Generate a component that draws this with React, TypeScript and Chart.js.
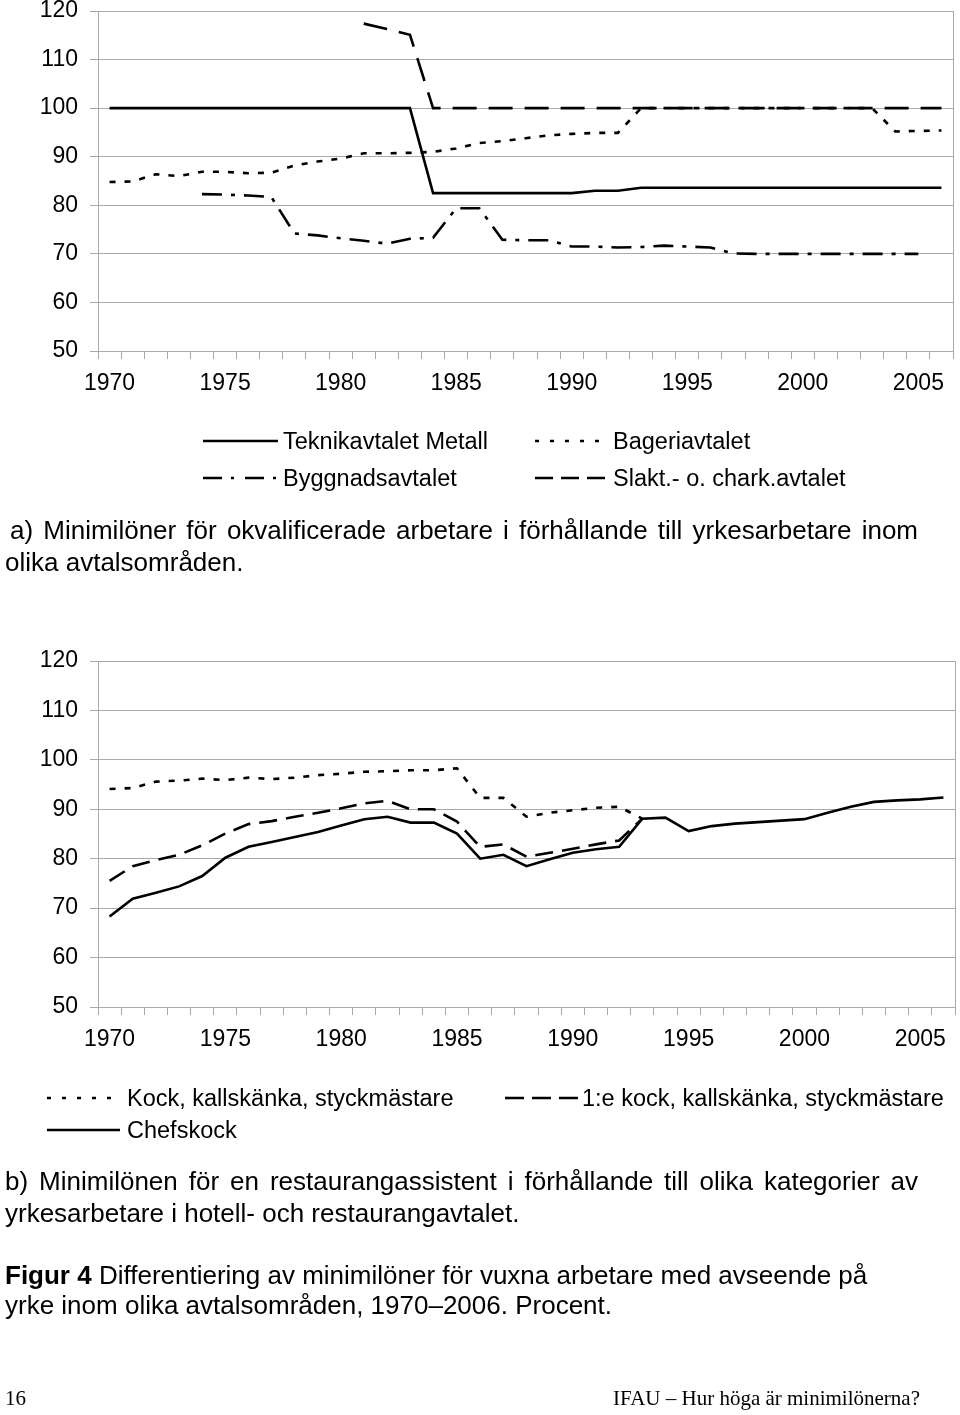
import React, { useEffect, useRef } from "react";
import { Chart, registerables } from "chart.js";

Chart.register(...registerables);

// ---------- data ----------
const years = [
  "1970", "1971", "1972", "1973", "1974", "1975", "1976", "1977", "1978", "1979",
  "1980", "1981", "1982", "1983", "1984", "1985", "1986", "1987", "1988", "1989",
  "1990", "1991", "1992", "1993", "1994", "1995", "1996", "1997", "1998", "1999",
  "2000", "2001", "2002", "2003", "2004", "2005", "2006",
];

const yMin = 50;
const yMax = 120;
const yStep = 10;

// Chart a
const teknikMetall = [
  100, 100, 100, 100, 100, 100, 100, 100, 100, 100,
  100, 100, 100, 100, 82.5, 82.5, 82.5, 82.5, 82.5, 82.5,
  82.5, 83, 83, 83.6, 83.6, 83.6, 83.6, 83.6, 83.6, 83.6,
  83.6, 83.6, 83.6, 83.6, 83.6, 83.6, 83.6,
];
const bageri = [
  84.8, 84.9, 86.4, 86.0, 86.9, 86.9, 86.6, 86.7, 88.2, 89.0,
  89.6, 90.7, 90.7, 90.8, 91.0, 91.7, 92.8, 93.2, 93.8, 94.4,
  94.7, 94.9, 94.9, 100, 100, 100, 100, 100, 100, 100,
  100, 100, 100, 100, 95.2, 95.3, 95.4,
];
const byggnad = [
  null, null, null, null, 82.3, 82.2, 82.0, 81.7, 74.2, 73.8,
  73.2, 72.7, 72.1, 73.1, 73.3, 79.4, 79.4, 72.9, 72.8, 72.8,
  71.5, 71.5, 71.3, 71.4, 71.7, 71.5, 71.3, 70.1, 70, 70,
  70, 70, 70, 70, 70, 70, null,
];
const slaktChark = [
  null, null, null, null, null, null, null, null, null, null,
  null, 117.4, 116.3, 115.1, 100, 100, 100, 100, 100, 100,
  100, 100, 100, 100, 100, 100, 100, 100, 100, 100,
  100, 100, 100, 100, 100, 100, 100,
];

// Chart b
const kock = [
  94.1, 94.3, 95.6, 95.8, 96.2, 95.9, 96.4, 96.1, 96.4, 96.9,
  97.2, 97.6, 97.7, 97.9, 97.9, 98.3, 92.3, 92.3, 88.5, 89.3,
  89.8, 90.3, 90.5, 88.1, null, null, null, null, null, null,
  null, null, null, null, null, null, null,
];
const forsteKock = [
  75.5, 78.5, 79.7, 80.8, 82.7, 85.1, 87.0, 87.6, 88.5, 89.3,
  90.2, 91.2, 91.7, 90.0, 90.0, 87.5, 82.4, 82.9, 80.4, 81.2,
  82.0, 82.9, 83.7, 88.1, null, null, null, null, null, null,
  null, null, null, null, null, null, null,
];
const chefskock = [
  68.3, 71.9, 73.1, 74.4, 76.5, 80.2, 82.4, 83.4, 84.4, 85.4,
  86.7, 88.0, 88.5, 87.3, 87.3, 85.1, 80.0, 80.8, 78.5, 79.9,
  81.2, 81.9, 82.4, 88.1, 88.3, 85.6, 86.6, 87.1, 87.4, 87.7,
  88.0, 89.3, 90.5, 91.5, 91.8, 92.0, 92.4,
];

// ---------- styles ----------
const GRID = "#a9a9a9";
const FONT = "'Liberation Sans', Arial, Helvetica, sans-serif";
const SERIF = "'Liberation Serif', 'Times New Roman', serif";
const LW = 2.6;
const TICK_SIZE = 23;

const DASH_DOT_SHORT = [6, 9];
const DASH_LONG = [24, 12];
const DASH_DASHDOT = [20, 9, 4, 9];
const DASH_MED = [18, 9];

const rightBorder = {
  id: "rightBorder",
  afterDraw(chart: any) {
    const { ctx, chartArea } = chart;
    ctx.save();
    ctx.strokeStyle = GRID;
    ctx.lineWidth = 1;
    const x = Math.round(chartArea.right) + 0.5;
    ctx.beginPath();
    ctx.moveTo(x, chartArea.top);
    ctx.lineTo(x, chartArea.bottom);
    ctx.stroke();
    ctx.restore();
  },
};

function ds(label: string, data: (number | null)[], dash: number[]) {
  return {
    label,
    data,
    borderColor: "#000",
    backgroundColor: "#000",
    borderWidth: LW,
    borderDash: dash,
    borderCapStyle: "butt",
    pointRadius: 0,
    fill: false,
    spanGaps: false,
    tension: 0,
  };
}

function LineChart(props: {
  top: number;
  height: number;
  padTop: number;
  padRight: number;
  datasets: any[];
}) {
  const ref = useRef<HTMLCanvasElement | null>(null);
  useEffect(() => {
    if (!ref.current) return;
    const chart = new Chart(ref.current, {
      type: "line",
      data: { labels: years, datasets: props.datasets },
      options: {
        animation: false,
        responsive: false,
        maintainAspectRatio: false,
        devicePixelRatio: 1,
        layout: { padding: { top: props.padTop, right: props.padRight, left: 0, bottom: 0 } },
        plugins: { legend: { display: false }, tooltip: { enabled: false } },
        scales: {
          x: {
            type: "category",
            offset: true,
            grid: {
              offset: true,
              drawOnChartArea: false,
              drawTicks: true,
              tickLength: 8,
              color: GRID,
            },
            border: { display: true, color: GRID },
            ticks: {
              autoSkip: false,
              maxRotation: 0,
              minRotation: 0,
              padding: 13,
              color: "#000",
              font: { family: FONT, size: TICK_SIZE, lineHeight: 1 },
              callback: (_v: any, i: number) => {
                const l = years[i];
                return Number(l) % 5 === 0 ? l : "";
              },
            },
            afterFit(s: any) {
              s.height = 49;
              s.paddingLeft = 0;
              s.paddingRight = 0;
            },
          },
          y: {
            min: yMin,
            max: yMax,
            ticks: {
              stepSize: yStep,
              padding: 12,
              color: "#000",
              font: { family: FONT, size: TICK_SIZE, lineHeight: 1 },
            },
            grid: { color: GRID, tickLength: 8, drawTicks: true },
            border: { display: true, color: GRID },
            afterFit(s: any) {
              s.width = 98;
              s.paddingTop = 0;
              s.paddingBottom = 0;
            },
          },
        },
      } as any,
      plugins: [rightBorder],
    });
    return () => chart.destroy();
  }, []);
  return (
    <canvas
      ref={ref}
      width={960}
      height={props.height}
      style={{ position: "absolute", left: 0, top: props.top, width: 960, height: props.height }}
    />
  );
}

function T(props: {
  x: number;
  y: number;
  size: number;
  children: any;
  family?: string;
  width?: number;
  justify?: boolean;
  right?: number;
}) {
  const style: any = {
    position: "absolute",
    top: props.y - props.size * 0.59,
    fontSize: props.size,
    lineHeight: `${props.size * 1.2}px`,
    fontFamily: props.family || FONT,
    whiteSpace: "nowrap",
    color: "#000",
  };
  if (props.right !== undefined) {
    style.right = props.right;
  } else {
    style.left = props.x;
  }
  if (props.width) {
    style.width = props.width;
  }
  if (props.justify) {
    style.textAlign = "justify";
    style.textAlignLast = "justify";
    style.whiteSpace = "normal";
  }
  return <div style={style}>{props.children}</div>;
}

export default function App() {
  const dsA = [
    ds("Teknikavtalet Metall", teknikMetall, []),
    ds("Bageriavtalet", bageri, DASH_DOT_SHORT),
    ds("Byggnadsavtalet", byggnad, DASH_DASHDOT),
    ds("Slakt.- o. chark.avtalet", slaktChark, DASH_LONG),
  ];
  const dsB = [
    ds("Chefskock", chefskock, []),
    ds("1:e kock, kallskänka, styckmästare", forsteKock, DASH_MED),
    ds("Kock, kallskänka, styckmästare", kock, DASH_DOT_SHORT),
  ];
  const LS = 23.5;
  const CS = 26;
  return (
    <div
      style={{
        position: "absolute",
        left: 0,
        top: 0,
        width: 960,
        height: 1415,
        overflow: "hidden",
        background: "#fff",
      }}
    >
      <LineChart top={0} height={400} padTop={11} padRight={7} datasets={dsA} />
      <LineChart top={640} height={416} padTop={21} padRight={5} datasets={dsB} />

      <svg
        width={960}
        height={1415}
        style={{ position: "absolute", left: 0, top: 0, pointerEvents: "none" }}
      >
        {/* legend a */}
        <line x1={203} y1={441} x2={278} y2={441} stroke="#000" strokeWidth={LW} />
        <line x1={535} y1={441} x2={600} y2={441} stroke="#000" strokeWidth={LW} strokeDasharray="4 11" />
        <line x1={203} y1={478} x2={280} y2={478} stroke="#000" strokeWidth={LW} strokeDasharray="19 9 3 11" />
        <line x1={535} y1={478} x2={605} y2={478} stroke="#000" strokeWidth={LW} strokeDasharray="18 8" />
        {/* legend b */}
        <line x1={47} y1={1098} x2={112} y2={1098} stroke="#000" strokeWidth={LW} strokeDasharray="4 11" />
        <line x1={505} y1={1098} x2={578} y2={1098} stroke="#000" strokeWidth={LW} strokeDasharray="19 8" />
        <line x1={47} y1={1130} x2={120} y2={1130} stroke="#000" strokeWidth={LW} />
      </svg>

      <T x={283} y={441} size={LS}>Teknikavtalet Metall</T>
      <T x={613} y={441} size={LS}>Bageriavtalet</T>
      <T x={283} y={478} size={LS}>Byggnadsavtalet</T>
      <T x={613} y={478} size={LS}>Slakt.- o. chark.avtalet</T>

      <T x={10} y={530} size={CS} width={908} justify>
        a) Minimilöner för okvalificerade arbetare i förhållande till yrkesarbetare inom
      </T>
      <T x={5} y={562} size={CS}>olika avtalsområden.</T>

      <T x={127} y={1098} size={LS}>Kock, kallskänka, styckmästare</T>
      <T x={582} y={1098} size={LS}>1:e kock, kallskänka, styckmästare</T>
      <T x={127} y={1130} size={LS}>Chefskock</T>

      <T x={5} y={1181} size={CS} width={913} justify>
        b) Minimilönen för en restaurangassistent i förhållande till olika kategorier av
      </T>
      <T x={5} y={1213} size={CS}>yrkesarbetare i hotell- och restaurangavtalet.</T>

      <T x={5} y={1275} size={CS}>
        <b>Figur 4</b> Differentiering av minimilöner för vuxna arbetare med avseende på
      </T>
      <T x={5} y={1305} size={CS}>yrke inom olika avtalsområden, 1970–2006. Procent.</T>

      <T x={5} y={1398} size={21} family={SERIF}>16</T>
      <T x={0} right={40} y={1398} size={21} family={SERIF}>IFAU – Hur höga är minimilönerna?</T>
    </div>
  );
}
